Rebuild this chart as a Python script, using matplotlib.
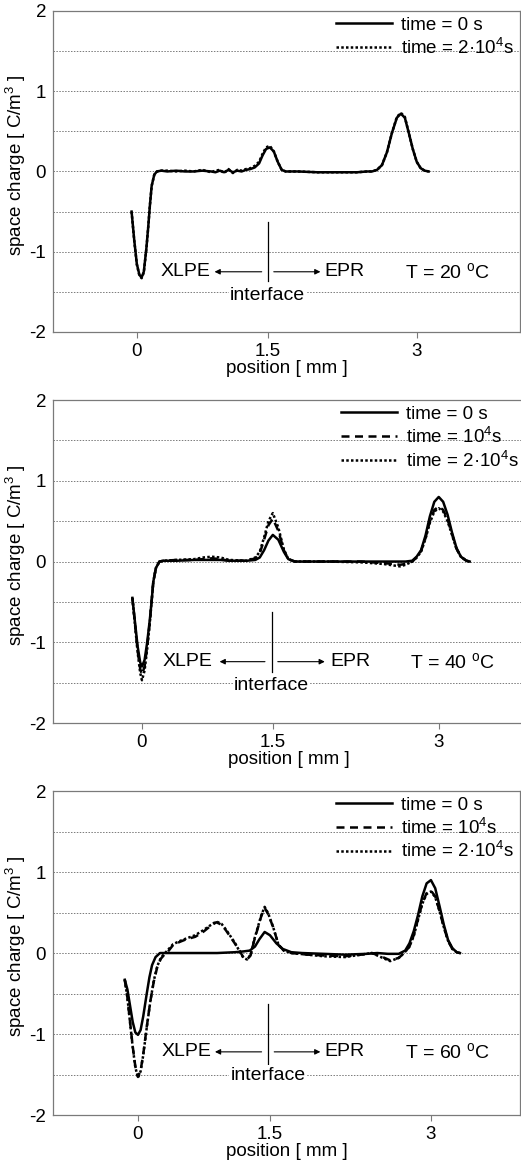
import numpy as np
import matplotlib
matplotlib.use('Agg')
import matplotlib.pyplot as plt

plt.rcParams['font.family'] = ['Liberation Sans', 'DejaVu Sans']
plt.rcParams['mathtext.fontset'] = 'custom'
plt.rcParams['mathtext.rm'] = 'Liberation Sans'
plt.rcParams['mathtext.it'] = 'Liberation Sans'
plt.rcParams['axes.unicode_minus'] = False

# ---- data (position in mm, space charge in C/m^3) ----
# T = 20 C
x20_t0 = [-0.06, -0.03, 0.0, 0.03, 0.055, 0.08, 0.11, 0.13, 0.15, 0.17, 0.2, 0.23, 0.28,
          0.35, 0.45, 0.55, 0.65, 0.75, 0.85, 0.9, 0.95, 1.0, 1.05, 1.1, 1.15, 1.2, 1.25,
          1.3, 1.35, 1.4, 1.44, 1.48, 1.52, 1.56, 1.6, 1.64, 1.68, 1.8, 2.0, 2.2, 2.4, 2.5,
          2.55, 2.6, 2.65, 2.7, 2.75, 2.8, 2.84, 2.88, 2.92, 2.96, 3.0, 3.04, 3.08, 3.12]
y20_t0 = [-0.5, -0.85, -1.15, -1.29, -1.32, -1.25, -0.95, -0.7, -0.42, -0.18, -0.04, 0.0, 0.01,
          0.0, 0.01, 0.0, 0.0, 0.01, 0.0, -0.01, 0.01, -0.01, 0.02, -0.01, 0.01, 0.0, 0.02,
          0.03, 0.05, 0.1, 0.2, 0.28, 0.3, 0.25, 0.12, 0.02, 0.0, 0.0, -0.01, -0.01, -0.01, 0.0,
          0.0, 0.02, 0.08, 0.24, 0.48, 0.67, 0.72, 0.67, 0.48, 0.28, 0.12, 0.04, 0.01, 0.0]
x20_t2 = [-0.06, -0.03, 0.0, 0.03, 0.055, 0.08, 0.11, 0.13, 0.15, 0.17, 0.2, 0.23, 0.28,
          0.35, 0.45, 0.55, 0.65, 0.75, 0.85, 0.9, 0.95, 1.0, 1.05, 1.1, 1.15, 1.2, 1.25,
          1.3, 1.35, 1.4, 1.44, 1.48, 1.52, 1.56, 1.6, 1.64, 1.68, 1.8, 2.0, 2.2, 2.4, 2.5,
          2.55, 2.6, 2.65, 2.7, 2.75, 2.8, 2.84, 2.88, 2.92, 2.96, 3.0, 3.04, 3.08, 3.12]
y20_t2 = [-0.5, -0.86, -1.16, -1.3, -1.33, -1.26, -0.96, -0.7, -0.42, -0.18, -0.04, 0.0, 0.01,
          0.01, 0.0, 0.01, 0.0, 0.02, -0.01, 0.01, 0.02, -0.02, 0.03, -0.02, 0.02, 0.01, 0.03,
          0.04, 0.07, 0.12, 0.22, 0.3, 0.32, 0.25, 0.12, 0.02, 0.0, 0.0, -0.01, -0.01, -0.01, 0.0,
          0.0, 0.02, 0.08, 0.24, 0.48, 0.68, 0.73, 0.68, 0.48, 0.28, 0.12, 0.04, 0.01, 0.0]

# T = 40 C
x40 = [-0.11, -0.08, -0.05, -0.02, 0.0, 0.03, 0.06, 0.09, 0.11, 0.13, 0.16, 0.2, 0.25, 0.4,
       0.6, 0.7, 0.8, 0.9, 1.0, 1.2, 1.3, 1.35, 1.4, 1.45, 1.5, 1.55, 1.6, 1.64, 1.7, 2.0,
       2.3, 2.5, 2.6, 2.65, 2.7, 2.76, 2.8, 2.84, 2.88, 2.92, 2.96, 3.0, 3.04, 3.08, 3.12,
       3.16, 3.2, 3.25, 3.28]
y40_t0 = [-0.45, -0.75, -1.05, -1.25, -1.3, -1.22, -1.0, -0.72, -0.5, -0.25, -0.08, 0.0, 0.01,
          0.01, 0.02, 0.02, 0.02, 0.02, 0.01, 0.01, 0.02, 0.05, 0.14, 0.26, 0.33, 0.27, 0.12,
          0.03, 0.0, 0.0, 0.0, 0.0, 0.0, 0.0, 0.0, 0.01, 0.06, 0.14, 0.32, 0.56, 0.74, 0.8,
          0.74, 0.58, 0.36, 0.17, 0.06, 0.01, 0.0]
y40_t1 = [-0.45, -0.77, -1.1, -1.33, -1.4, -1.3, -1.05, -0.75, -0.5, -0.25, -0.08, 0.0, 0.01,
          0.02, 0.02, 0.03, 0.04, 0.03, 0.01, 0.01, 0.04, 0.1, 0.27, 0.45, 0.53, 0.38, 0.14,
          0.03, 0.0, 0.0, 0.0, -0.02, -0.03, -0.04, -0.03, 0.0, 0.05, 0.13, 0.29, 0.5, 0.64,
          0.68, 0.64, 0.52, 0.34, 0.16, 0.06, 0.01, 0.0]
y40_t2 = [-0.45, -0.78, -1.12, -1.38, -1.47, -1.35, -1.08, -0.76, -0.5, -0.25, -0.08, 0.0, 0.01,
          0.02, 0.03, 0.05, 0.06, 0.05, 0.02, 0.01, 0.05, 0.12, 0.3, 0.5, 0.6, 0.42, 0.15,
          0.03, 0.0, 0.0, -0.01, -0.03, -0.05, -0.06, -0.04, 0.0, 0.05, 0.12, 0.28, 0.48, 0.62,
          0.66, 0.62, 0.5, 0.33, 0.16, 0.06, 0.01, 0.0]

# T = 60 C
x60_t0 = [-0.15, -0.12, -0.09, -0.06, -0.03, 0.0, 0.03, 0.06, 0.1, 0.13, 0.16, 0.2, 0.25, 0.35,
          0.6, 0.9, 1.1, 1.2, 1.27, 1.33, 1.38, 1.44, 1.5, 1.56, 1.62, 1.7, 1.8, 2.0, 2.2, 2.4,
          2.5, 2.6, 2.7, 2.76, 2.8, 2.84, 2.88, 2.92, 2.96, 3.0, 3.04, 3.08, 3.12, 3.16, 3.2,
          3.24, 3.27]
y60_t0 = [-0.33, -0.45, -0.65, -0.85, -0.98, -1.01, -0.95, -0.78, -0.5, -0.3, -0.15, -0.05, 0.0,
          0.0, 0.0, 0.0, 0.01, 0.02, 0.03, 0.08, 0.17, 0.26, 0.22, 0.12, 0.05, 0.01, 0.0, -0.01,
          -0.02, -0.01, 0.0, -0.01, -0.01, 0.03, 0.12, 0.27, 0.47, 0.7, 0.86, 0.9, 0.8, 0.58,
          0.35, 0.16, 0.06, 0.01, 0.0]
x60 = [-0.15, -0.12, -0.09, -0.06, -0.03, 0.0, 0.03, 0.06, 0.1, 0.14, 0.18, 0.22, 0.26, 0.3,
       0.35, 0.4, 0.48, 0.55, 0.65, 0.74, 0.82, 0.89, 0.95, 1.0, 1.05, 1.1, 1.16, 1.2, 1.24,
       1.28, 1.32, 1.36, 1.4, 1.44, 1.48, 1.53, 1.58, 1.63, 1.7, 1.85, 2.0, 2.2, 2.35, 2.45,
       2.55, 2.62, 2.7, 2.75, 2.8, 2.84, 2.88, 2.92, 2.96, 3.0, 3.04, 3.08, 3.12, 3.16, 3.2,
       3.24, 3.27]
y60_t1 = [-0.33, -0.55, -0.85, -1.15, -1.4, -1.53, -1.45, -1.25, -0.91, -0.6, -0.35, -0.17,
          -0.07, -0.02, 0.03, 0.1, 0.14, 0.17, 0.2, 0.26, 0.33, 0.38, 0.35, 0.28, 0.2, 0.12,
          0.02, -0.06, -0.08, -0.03, 0.15, 0.3, 0.45, 0.56, 0.48, 0.32, 0.1, 0.03, 0.0, -0.02,
          -0.03, -0.04, -0.02, 0.0, -0.05, -0.09, -0.06, 0.0, 0.08, 0.22, 0.42, 0.62, 0.74,
          0.77, 0.7, 0.52, 0.32, 0.15, 0.05, 0.01, 0.0]
y60_t2 = [-0.33, -0.55, -0.86, -1.16, -1.41, -1.54, -1.46, -1.26, -0.92, -0.6, -0.34, -0.16,
          -0.06, -0.01, 0.05, 0.11, 0.15, 0.18, 0.22, 0.28, 0.34, 0.39, 0.36, 0.29, 0.21, 0.13,
          0.01, -0.06, -0.08, -0.02, 0.16, 0.31, 0.46, 0.57, 0.49, 0.32, 0.1, 0.03, 0.0, -0.02,
          -0.04, -0.05, -0.02, 0.0, -0.06, -0.1, -0.06, 0.0, 0.08, 0.21, 0.41, 0.61, 0.73,
          0.76, 0.69, 0.52, 0.32, 0.15, 0.05, 0.01, 0.0]

temps = ['20', '40', '60']
xtick_vals = [0, 1.5, 3]
xtick_labels = ['0', '1.5', '3']
ytick_vals = [-2, -1, 0, 1, 2]
labels = ['time = 0 s', 'time = 10$^{4}$s', 'time = 2·10$^{4}$s']

# ---- layout per panel (axes rect, EPR stretch, x limits, annotation anchors) ----
panels = [
    dict(rect=[0.1017, 0.7153, 0.8964, 0.2753], r=1.137, xlim=(-0.96, 4.04),
         curves=[(x20_t0, y20_t0, 0), (x20_t2, y20_t2, 2)],
         xi=1.5, ay=-1.25, xl=(1.43, 0.89), xr=(1.56, 2.03), txl=0.84, txr=2.07,
         iy=-1.54, tx=2.88),
    dict(rect=[0.1017, 0.3799, 0.906, 0.277], r=1.268, xlim=(-1.02, 3.78),
         curves=[(x40, y40_t0, 0), (x40, y40_t1, 1), (x40, y40_t2, 2)],
         xi=1.485, ay=-1.24, xl=(1.41, 0.89), xr=(1.545, 1.97), txl=0.81, txr=2.02,
         iy=-1.53, tx=2.74),
    dict(rect=[0.1017, 0.0437, 0.8964, 0.2779], r=1.22, xlim=(-0.966, 3.83),
         curves=[(x60_t0, y60_t0, 0), (x60, y60_t1, 1), (x60, y60_t2, 2)],
         xi=1.48, ay=-1.22, xl=(1.405, 0.875), xr=(1.54, 1.97), txl=0.83, txr=2.01,
         iy=-1.51, tx=2.76),
]

styles = [dict(ls='-', lw=1.8),
          dict(ls=(0, (3.2, 2.2)), lw=1.8),
          dict(ls=(0, (1.0, 0.9)), lw=1.8)]

gray = '#7a7a7a'
fs = 13.5
fig = plt.figure(figsize=(5.21, 11.66), dpi=100)

for p, t in zip(panels, temps):
    ax = fig.add_axes(p['rect'])
    r = p['r']

    # XLPE and EPR parts of the axis are drawn with different stretch
    def fwd(x, r=r):
        x = np.asarray(x, dtype=float)
        return np.where(x <= 1.5, x, 1.5 + (x - 1.5) * r)

    def inv(u, r=r):
        u = np.asarray(u, dtype=float)
        return np.where(u <= 1.5, u, 1.5 + (u - 1.5) / r)

    ax.set_xscale('function', functions=(fwd, inv))

    handles = []
    for xs, ys, k in p['curves']:
        h, = ax.plot(xs, ys, color='black', label=labels[k], **styles[k])
        handles.append(h)

    ax.set_xlim(*p['xlim'])
    ax.set_ylim(-2, 2)
    ax.set_xticks(xtick_vals)
    ax.set_xticklabels(xtick_labels)
    ax.set_yticks(ytick_vals)
    ax.set_yticks([-1.5, -0.5, 0.5, 1.5], minor=True)
    ax.tick_params(axis='y', which='both', length=0, pad=5, labelsize=fs)
    ax.tick_params(axis='x', length=4, color=gray, pad=4, labelsize=fs)
    ax.grid(axis='y', which='both', color=gray, ls=(0, (1.5, 1.5)), lw=0.7)
    ax.set_axisbelow(True)
    for s in ax.spines.values():
        s.set_color(gray)
        s.set_linewidth(0.9)

    ax.set_xlabel('position [ mm ]', fontsize=fs, labelpad=0)
    ax.set_ylabel('space charge [ C/m$^{3}$ ]', fontsize=fs)
    ax.yaxis.set_label_coords(-0.053, 0.52)

    ax.legend(handles=handles, loc='upper right', bbox_to_anchor=(1.0, 1.0),
              frameon=False, fontsize=fs, handlelength=3.0, handletextpad=0.5,
              labelspacing=0.2, borderaxespad=0.0, borderpad=0.3)

    # interface marker and material labels
    ax.plot([p['xi'], p['xi']], [-0.63, -1.37], color='black', lw=0.9)
    ax.annotate('', xy=(p['xl'][1], p['ay']), xytext=(p['xl'][0], p['ay']),
                arrowprops=dict(arrowstyle='-|>', color='black', lw=0.8,
                                mutation_scale=8, shrinkA=0, shrinkB=0))
    ax.annotate('', xy=(p['xr'][1], p['ay']), xytext=(p['xr'][0], p['ay']),
                arrowprops=dict(arrowstyle='-|>', color='black', lw=0.8,
                                mutation_scale=8, shrinkA=0, shrinkB=0))
    ax.text(p['txl'], p['ay'], 'XLPE', ha='right', va='center', fontsize=14)
    ax.text(p['txr'], p['ay'], 'EPR', ha='left', va='center', fontsize=14)
    ax.text(p['xi'], p['iy'], 'interface', ha='center', va='center', fontsize=14,
            bbox=dict(fc='white', ec='none', pad=1))
    ax.text(p['tx'], p['ay'], 'T = ' + t + ' $^{\\mathrm{o}}$C', ha='left', va='center',
            fontsize=14)

fig.savefig('out.png', dpi=100)
